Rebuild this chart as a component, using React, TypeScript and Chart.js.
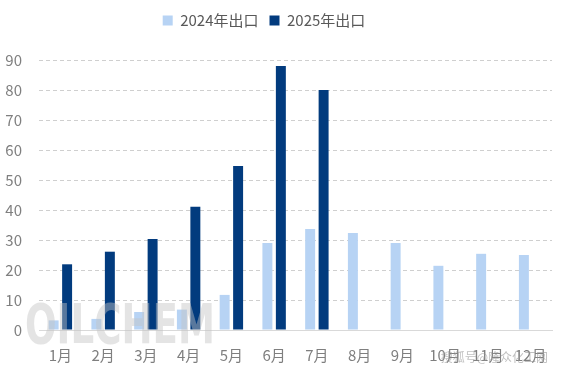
import React, { useEffect, useRef } from "react";
import { Chart, registerables } from "chart.js";

Chart.register(...registerables);

const categories = ["1月", "2月", "3月", "4月", "5月", "6月", "7月", "8月", "9月", "10月", "11月", "12月"];
const exports2024 = [3.2, 3.7, 6.0, 6.8, 11.7, 29.0, 33.7, 32.3, 29.0, 21.4, 25.4, 25.0];
const exports2025 = [21.9, 26.1, 30.3, 41.1, 54.7, 88.0, 80.0, null, null, null, null, null];
const yTicks = [0, 10, 20, 30, 40, 50, 60, 70, 80, 90];
const seriesNames = ["2024年出口", "2025年出口"];
const watermarkMain = "OILCHEM";
const watermarkCorner = "搜狐号@隆众化工网";

const FONT = "'Noto Sans CJK SC', 'Microsoft YaHei', sans-serif";

const legendSpacer = {
  id: "legendSpacer",
  afterInit(chart: any) {
    const lg = chart.legend;
    if (!lg) return;
    const origFit = lg.fit;
    lg.fit = function () {
      origFit.call(this);
      this.height += 24;
    };
    const origDraw = lg.draw;
    lg.draw = function () {
      const ctx = this.ctx;
      ctx.save();
      ctx.translate(-12, 2);
      origDraw.call(this);
      ctx.restore();
    };
  },
};

const watermarkPlugin = {
  id: "watermark",
  afterDatasetsDraw(chart: any) {
    const { ctx, chartArea } = chart;
    ctx.save();
    ctx.font = `bold 56px 'DejaVu Sans', sans-serif`;
    ctx.textBaseline = "middle";
    ctx.textAlign = "left";
    const w = ctx.measureText(watermarkMain).width;
    const target = 190;
    ctx.translate(25, 328);
    ctx.scale(target / w, 1);
    ctx.fillStyle = "rgba(195,195,195,0.45)";
    ctx.fillText(watermarkMain, 0, 0);
    ctx.restore();
    ctx.save();
    ctx.font = `12px ${FONT}`;
    ctx.textAlign = "right";
    ctx.textBaseline = "middle";
    ctx.fillStyle = "rgba(150,150,150,0.6)";
    ctx.fillText(watermarkCorner, chartArea.right - 4, chartArea.bottom + 27);
    ctx.restore();
  },
};

export default function App() {
  const ref = useRef<HTMLCanvasElement | null>(null);
  useEffect(() => {
    document.body.style.margin = "0";
    if (!ref.current) return;
    const chart = new Chart(ref.current, {
      type: "bar",
      data: {
        labels: categories,
        datasets: [
          {
            label: seriesNames[0],
            data: exports2024,
            backgroundColor: "#b7d3f4",
            barPercentage: 0.74,
            categoryPercentage: 0.63,
          },
          {
            label: seriesNames[1],
            data: exports2025,
            backgroundColor: "#023b7e",
            barPercentage: 0.74,
            categoryPercentage: 0.63,
          },
        ],
      },
      options: {
        responsive: false,
        animation: false,
        layout: { padding: { left: 0, right: 15, top: 0, bottom: 0 } },
        plugins: {
          legend: {
            position: "top",
            labels: {
              boxWidth: 10,
              boxHeight: 10,
              padding: 11,
              color: "#595959",
              font: { size: 15, family: FONT },
            },
          },
          tooltip: { enabled: false },
        },
        scales: {
          x: {
            grid: { display: false },
            border: { display: true, color: "#d9d9d9" },
            ticks: { color: "#7f7f7f", font: { size: 15, family: FONT }, padding: 8, maxRotation: 0, autoSkip: false },
            afterFit: (s: any) => {
              s.height = 48;
            },
          },
          y: {
            min: 0,
            max: 90,
            afterBuildTicks: (s: any) => {
              s.ticks = yTicks.map((v) => ({ value: v }));
            },
            grid: { color: "#cfcfcf", drawTicks: false },
            border: { display: false, dash: [4, 3] },
            ticks: { color: "#7f7f7f", font: { size: 15, family: FONT }, padding: 17 },
            afterFit: (s: any) => {
              s.width = 39;
            },
          },
        },
      },
      plugins: [legendSpacer, watermarkPlugin],
    });
    return () => chart.destroy();
  }, []);
  return (
    <div style={{ width: 567, height: 378 }}>
      <canvas ref={ref} width={567} height={378} />
    </div>
  );
}
